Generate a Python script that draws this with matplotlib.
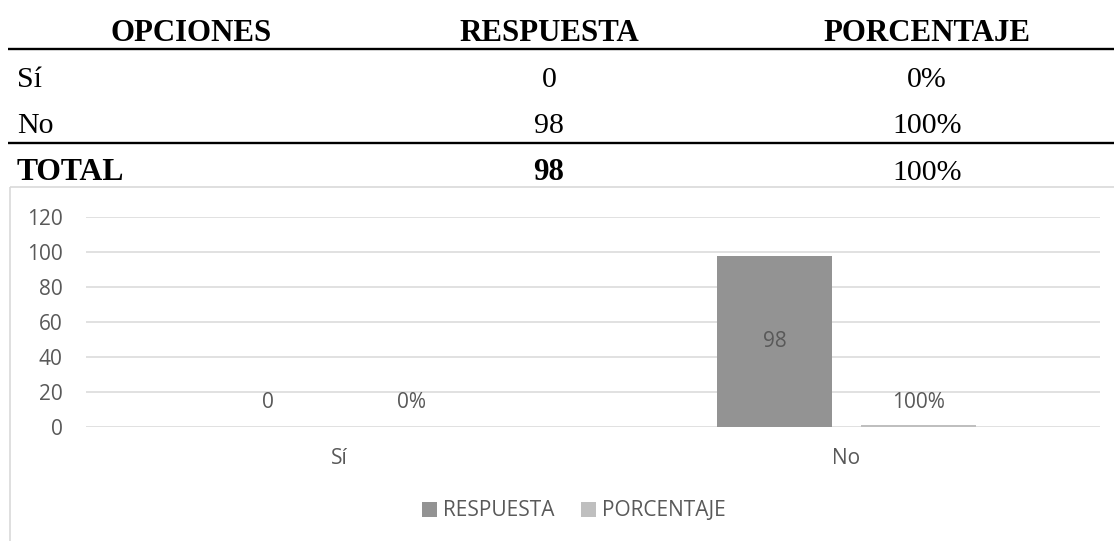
import matplotlib.pyplot as plt
import numpy as np
from matplotlib.patches import Rectangle

# table data
headers = ['OPCIONES', 'RESPUESTA', 'PORCENTAJE']
row_labels = ['Sí', 'No']
respuesta = [0, 98]
porcentaje = [0, 100]
total_label = 'TOTAL'
total_resp = 98
total_pct = 100

# chart data
categories = ['Sí', 'No']
series_names = ['RESPUESTA', 'PORCENTAJE']
chart_resp = [0, 98]
chart_pct = [0.0, 1.0]   # percentages plotted as fractions, like the source sheet
pct_labels = ['0%', '100%']
yticks = [0, 20, 40, 60, 80, 100, 120]

W, H = 1114, 541
fig = plt.figure(figsize=(W / 100, H / 100), dpi=100)

# overlay in pixel coords for the table
tab = fig.add_axes([0, 0, 1, 1])
tab.set_xlim(0, W)
tab.set_ylim(H, 0)
tab.axis('off')

serif = 'Liberation Serif'
col_x = [191, 549, 927]
for x, h in zip(col_x, headers):
    tab.text(x, 41, h, ha='center', va='baseline', family=serif,
             fontweight='bold', fontsize=22.2, color='black')
tab.plot([8, W], [49, 49], color='black', lw=1.7, solid_capstyle='butt')

row_y = [87, 133]
for y, lab, r, p in zip(row_y, row_labels, respuesta, porcentaje):
    tab.text(17, y, lab, ha='left', va='baseline', family=serif, fontsize=21.5)
    tab.text(col_x[1], y, str(r), ha='center', va='baseline', family=serif, fontsize=21.5)
    tab.text(col_x[2], y, f'{p}%', ha='center', va='baseline', family=serif, fontsize=21.5)
tab.plot([8, W], [143, 143], color='black', lw=1.7, solid_capstyle='butt')

tab.text(17, 180, total_label, ha='left', va='baseline', family=serif,
         fontweight='bold', fontsize=22.8)
tab.text(col_x[1], 180, str(total_resp), ha='center', va='baseline', family=serif,
         fontweight='bold', fontsize=22.2)
tab.text(col_x[2], 180, f'{total_pct}%', ha='center', va='baseline', family=serif,
         fontsize=21.5)

# chart frame (runs off the right/bottom edge)
tab.add_patch(Rectangle((10, 187), W + 20, H, fill=False, edgecolor='#D9D9D9', lw=1.2))

# bar chart
ax = fig.add_axes([86 / W, 1 - 427 / H, (1100 - 86) / W, (427 - 217) / H])
sans = 'Open Sans'
fs = 15
txt = '#595959'
c_resp = '#939393'
c_pct = '#BFBFBF'

x = np.arange(len(categories))
bw = 0.225
off = 0.142
b1 = ax.bar(x - off, chart_resp, bw, color=c_resp, label=series_names[0], zorder=3)
b2 = ax.bar(x + off, chart_pct, bw, color=c_pct, label=series_names[1], zorder=3)

ax.set_xlim(-0.5, 1.5)
ax.set_ylim(0, 120)
ax.set_yticks(yticks)
ax.set_xticks(x)
ax.set_xticklabels(categories)
ax.grid(axis='y', color='#D9D9D9', lw=1.1, zorder=0)
for s in ax.spines.values():
    s.set_visible(False)
ax.tick_params(axis='both', length=0, labelsize=fs, labelcolor=txt)
ax.tick_params(axis='y', pad=17)
ax.tick_params(axis='x', pad=15)
for lab in ax.get_xticklabels() + ax.get_yticklabels():
    lab.set_family(sans)
ax.patch.set_alpha(0)

# data labels
for rect, v in zip(b1, chart_resp):
    if v > 20:
        ax.text(rect.get_x() + rect.get_width() / 2, v / 2, str(v), ha='center',
                va='center', family=sans, fontsize=fs, color=txt)
    else:
        ax.annotate(str(v), (rect.get_x() + rect.get_width() / 2, v),
                    xytext=(0, 25), textcoords='offset pixels', ha='center',
                    va='center', family=sans, fontsize=fs, color=txt)
for rect, v, l in zip(b2, chart_pct, pct_labels):
    ax.annotate(l, (rect.get_x() + rect.get_width() / 2, 0),
                xytext=(0, 25), textcoords='offset pixels', ha='center',
                va='center', family=sans, fontsize=fs, color=txt)

leg = fig.legend(handles=[b1, b2], loc='center', bbox_to_anchor=(574 / W, 1 - 511 / H),
                 ncol=2, frameon=False, handlelength=0.7, handleheight=0.7,
                 handletextpad=0.3, columnspacing=1.3,
                 prop={'family': sans, 'size': fs})
for t in leg.get_texts():
    t.set_color(txt)

fig.savefig('out.png', dpi=100)
